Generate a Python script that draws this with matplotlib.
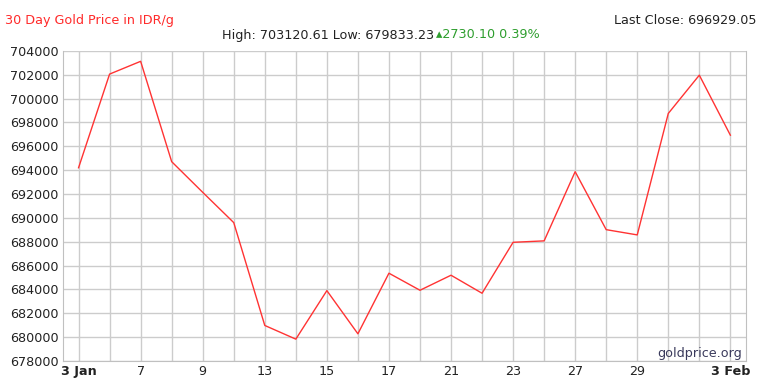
import matplotlib
matplotlib.use('Agg')
import matplotlib.pyplot as plt
import numpy as np

# trading days (2020), only some get a label
days = ['3 Jan', '6', '7', '8', '9', '10', '13', '14', '15', '16', '17',
        '20', '21', '22', '23', '24', '27', '28', '29', '30', '31', '3 Feb']
shown = ['3 Jan', '7', '9', '13', '15', '17', '21', '23', '27', '29', '3 Feb']
prices = [694198.95, 702050, 703120.61, 694710, 692140, 689600, 680980,
          679833.23, 683900, 680280, 685360, 683930, 685190, 683680,
          687950, 688070, 693870, 689010, 688570, 698750, 701960, 696929.05]
yticks = list(range(678000, 704001, 2000))

fs = 9.2

fig = plt.figure(figsize=(7.65, 3.91), dpi=100)
ax = fig.add_axes([0.0824, 0.0767, 0.8926, 0.7933])

x = np.arange(len(days))
ax.plot(x, prices, color='#ff3333', lw=1.0, zorder=3)

ax.set_xlim(-0.5, len(days) - 0.5)
ax.set_ylim(678000, 704000)
ax.set_yticks(yticks)
ax.set_yticklabels([str(v) for v in yticks])
ax.set_xticks(x, minor=True)
ax.set_xticks([i for i, d in enumerate(days) if d in shown])
ax.set_xticklabels([d for d in days if d in shown])
for lab in ax.get_xticklabels():
    if ' ' in lab.get_text():
        lab.set_fontweight('bold')

ax.grid(True, which='both', color='#cccccc', lw=1.0)
ax.set_axisbelow(True)
ax.tick_params(which='both', length=0, labelsize=fs, colors='#222222', pad=3)
for s in ax.spines.values():
    s.set_color('#c0c0c0')
ax.spines['top'].set_visible(False)

fig.text(5 / 765, 1 - 20.5 / 391, '30 Day Gold Price in IDR/g', color='#ff2a2a',
         fontsize=fs, ha='left', va='center')
fig.text(756 / 765, 1 - 20.5 / 391, 'Last Close: 696929.05', color='#222222',
         fontsize=fs, ha='right', va='center')
fig.text(434 / 765, 1 - 35 / 391, 'High: 703120.61 Low: 679833.23', color='#222222',
         fontsize=fs, ha='right', va='center')
fig.text(436 / 765, 1 - 35 / 391, '\u25b42730.10 0.39%', color='#2e9e2e',
         fontsize=fs, ha='left', va='center')
fig.text(742 / 765, 1 - 353 / 391, 'goldprice.org', color='#3a3a5c',
         fontsize=fs, ha='right', va='center')

fig.savefig('out.png', dpi=100)
